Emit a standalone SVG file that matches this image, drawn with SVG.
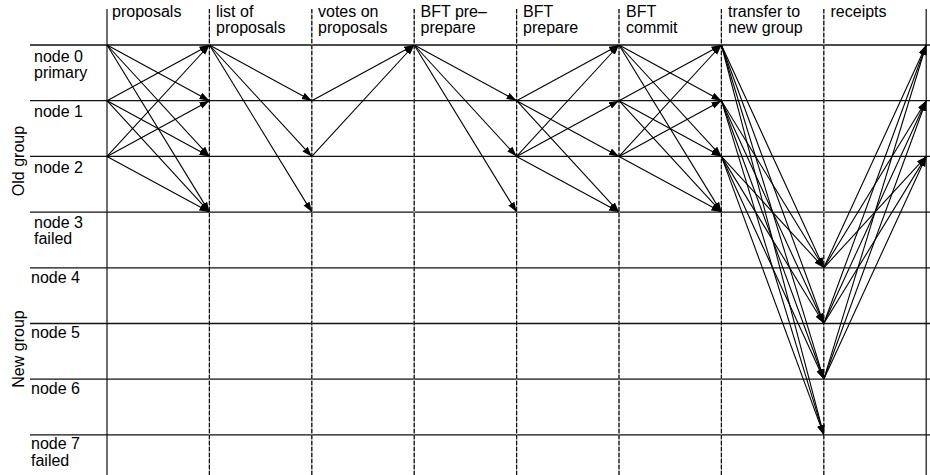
<svg xmlns="http://www.w3.org/2000/svg" width="930" height="475" viewBox="0 0 930 475">
<defs>
<marker id="ah" markerUnits="userSpaceOnUse" markerWidth="11" markerHeight="8" refX="10" refY="3.5" orient="auto">
<path d="M0,0 L10,3.5 L0,7 z" fill="#000"/>
</marker>
<style>
text{font-family:"Liberation Sans",Arial,sans-serif;font-size:16px;fill:#000}
.h{stroke:#111;stroke-width:1.3}
.vs{stroke:#111;stroke-width:1.2}
.vg{stroke:#999;stroke-width:1.2}
.vd{stroke:#111;stroke-width:1.2;stroke-dasharray:4 2}
.a line{stroke:#000;stroke-width:1.1;marker-end:url(#ah)}
</style>
</defs>
<rect width="930" height="475" fill="#fff"/>
<g id="groups">
<text transform="translate(24,161) rotate(-90)" text-anchor="middle">Old group</text>
<text transform="translate(24,349) rotate(-90)" text-anchor="middle">New group</text>
</g>
<g id="node0"><line class="h" x1="30" y1="45" x2="930" y2="45"/><text x="34" y="62">node 0</text><text x="34" y="78">primary</text></g>
<g id="node1"><line class="h" x1="30" y1="100.7" x2="930" y2="100.7"/><text x="34" y="117">node 1</text></g>
<g id="node2"><line class="h" x1="30" y1="156.4" x2="930" y2="156.4"/><text x="34" y="172.5">node 2</text></g>
<g id="node3"><line class="h" x1="30" y1="212.1" x2="930" y2="212.1"/><text x="34" y="227.5">node 3</text><text x="34" y="244">failed</text></g>
<g id="node4"><line class="h" x1="30" y1="267.8" x2="930" y2="267.8"/><text x="31" y="282.5">node 4</text></g>
<g id="node5"><line class="h" x1="30" y1="323.5" x2="930" y2="323.5"/><text x="31" y="338">node 5</text></g>
<g id="node6"><line class="h" x1="30" y1="379.2" x2="930" y2="379.2"/><text x="31" y="393.5">node 6</text></g>
<g id="node7"><line class="h" x1="30" y1="434.9" x2="930" y2="434.9"/><text x="31" y="449">node 7</text><text x="31" y="466">failed</text></g>
<g id="phase-proposals"><line class="vs" x1="107" y1="9" x2="107" y2="475"/><text x="112" y="17">proposals</text></g>
<g id="phase-list"><line class="vg" x1="209.4" y1="9" x2="209.4" y2="475"/><line class="vd" x1="209.4" y1="9" x2="209.4" y2="475"/><text x="216" y="17">list of</text><text x="216" y="33">proposals</text></g>
<g id="phase-votes"><line class="vg" x1="311.8" y1="9" x2="311.8" y2="475"/><line class="vd" x1="311.8" y1="9" x2="311.8" y2="475"/><text x="318" y="17">votes on</text><text x="318" y="33">proposals</text></g>
<g id="phase-preprepare"><line class="vg" x1="414.2" y1="9" x2="414.2" y2="475"/><line class="vd" x1="414.2" y1="9" x2="414.2" y2="475"/><text x="420.5" y="17">BFT pre–</text><text x="420.5" y="33">prepare</text></g>
<g id="phase-prepare"><line class="vg" x1="516.6" y1="9" x2="516.6" y2="475"/><line class="vd" x1="516.6" y1="9" x2="516.6" y2="475"/><text x="523" y="17">BFT</text><text x="523" y="33">prepare</text></g>
<g id="phase-commit"><line class="vg" x1="619" y1="9" x2="619" y2="475"/><line class="vd" x1="619" y1="9" x2="619" y2="475"/><text x="626" y="17">BFT</text><text x="626" y="33">commit</text></g>
<g id="phase-transfer"><line class="vg" x1="721.4" y1="9" x2="721.4" y2="475"/><line class="vd" x1="721.4" y1="9" x2="721.4" y2="475"/><text x="728" y="17">transfer to</text><text x="728" y="33">new group</text></g>
<g id="phase-receipts"><line class="vg" x1="823.8" y1="9" x2="823.8" y2="475"/><line class="vd" x1="823.8" y1="9" x2="823.8" y2="475"/><text x="830.5" y="17">receipts</text></g>
<g id="phase-end"><line class="vs" x1="926.2" y1="9" x2="926.2" y2="475"/></g>
<g id="connectors" class="a">
<line x1="107" y1="45" x2="209.4" y2="100.7"/>
<line x1="107" y1="45" x2="209.4" y2="156.4"/>
<line x1="107" y1="45" x2="209.4" y2="212.1"/>
<line x1="107" y1="100.7" x2="209.4" y2="45"/>
<line x1="107" y1="100.7" x2="209.4" y2="156.4"/>
<line x1="107" y1="100.7" x2="209.4" y2="212.1"/>
<line x1="107" y1="156.4" x2="209.4" y2="45"/>
<line x1="107" y1="156.4" x2="209.4" y2="100.7"/>
<line x1="107" y1="156.4" x2="209.4" y2="212.1"/>
<line x1="209.4" y1="45" x2="311.8" y2="100.7"/>
<line x1="209.4" y1="45" x2="311.8" y2="156.4"/>
<line x1="209.4" y1="45" x2="311.8" y2="212.1"/>
<line x1="311.8" y1="100.7" x2="414.2" y2="45"/>
<line x1="311.8" y1="156.4" x2="414.2" y2="45"/>
<line x1="414.2" y1="45" x2="516.6" y2="100.7"/>
<line x1="414.2" y1="45" x2="516.6" y2="156.4"/>
<line x1="414.2" y1="45" x2="516.6" y2="212.1"/>
<line x1="516.6" y1="100.7" x2="619" y2="45"/>
<line x1="516.6" y1="100.7" x2="619" y2="156.4"/>
<line x1="516.6" y1="100.7" x2="619" y2="212.1"/>
<line x1="516.6" y1="156.4" x2="619" y2="45"/>
<line x1="516.6" y1="156.4" x2="619" y2="100.7"/>
<line x1="516.6" y1="156.4" x2="619" y2="212.1"/>
<line x1="619" y1="45" x2="721.4" y2="100.7"/>
<line x1="619" y1="45" x2="721.4" y2="156.4"/>
<line x1="619" y1="45" x2="721.4" y2="212.1"/>
<line x1="619" y1="100.7" x2="721.4" y2="45"/>
<line x1="619" y1="100.7" x2="721.4" y2="156.4"/>
<line x1="619" y1="100.7" x2="721.4" y2="212.1"/>
<line x1="619" y1="156.4" x2="721.4" y2="45"/>
<line x1="619" y1="156.4" x2="721.4" y2="100.7"/>
<line x1="619" y1="156.4" x2="721.4" y2="212.1"/>
<line x1="721.4" y1="45" x2="823.8" y2="267.8"/>
<line x1="721.4" y1="45" x2="823.8" y2="323.5"/>
<line x1="721.4" y1="45" x2="823.8" y2="379.2"/>
<line x1="721.4" y1="45" x2="823.8" y2="434.9"/>
<line x1="721.4" y1="100.7" x2="823.8" y2="267.8"/>
<line x1="721.4" y1="100.7" x2="823.8" y2="323.5"/>
<line x1="721.4" y1="100.7" x2="823.8" y2="379.2"/>
<line x1="721.4" y1="100.7" x2="823.8" y2="434.9"/>
<line x1="721.4" y1="156.4" x2="823.8" y2="267.8"/>
<line x1="721.4" y1="156.4" x2="823.8" y2="323.5"/>
<line x1="721.4" y1="156.4" x2="823.8" y2="379.2"/>
<line x1="721.4" y1="156.4" x2="823.8" y2="434.9"/>
<line x1="823.8" y1="267.8" x2="926.2" y2="45"/>
<line x1="823.8" y1="267.8" x2="926.2" y2="100.7"/>
<line x1="823.8" y1="267.8" x2="926.2" y2="156.4"/>
<line x1="823.8" y1="323.5" x2="926.2" y2="45"/>
<line x1="823.8" y1="323.5" x2="926.2" y2="100.7"/>
<line x1="823.8" y1="323.5" x2="926.2" y2="156.4"/>
<line x1="823.8" y1="379.2" x2="926.2" y2="45"/>
<line x1="823.8" y1="379.2" x2="926.2" y2="100.7"/>
<line x1="823.8" y1="379.2" x2="926.2" y2="156.4"/>
</g>
</svg>
